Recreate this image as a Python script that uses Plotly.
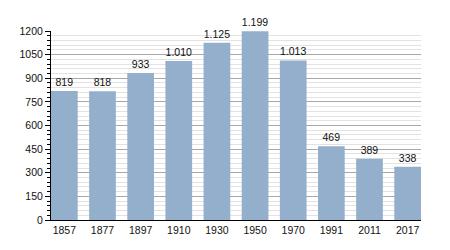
import plotly.graph_objects as go

years = ["1857", "1877", "1897", "1910", "1930", "1950", "1970", "1991", "2011", "2017"]
population = [819, 818, 933, 1010, 1125, 1199, 1013, 469, 389, 338]
y_ticks = [0, 150, 300, 450, 600, 750, 900, 1050, 1200]

fig = go.Figure(
    go.Bar(
        x=years,
        y=population,
        marker=dict(color="#94afcc", line=dict(width=0)),
        texttemplate="%{y:,d}",
        textposition="outside",
        textfont=dict(color="#111111", size=10.5),
        cliponaxis=False,
    )
)

fig.update_layout(
    width=450,
    height=250,
    margin=dict(l=51, r=29, t=31, b=30),
    paper_bgcolor="white",
    plot_bgcolor="white",
    separators=",.",
    bargap=0.3,
    showlegend=False,
    font=dict(family="Liberation Sans, Arial, sans-serif", size=10.5, color="#111111"),
)

fig.update_xaxes(
    type="category",
    range=[-0.35, 9.35],
    showline=True,
    linecolor="black",
    linewidth=1,
    ticks="",
    showgrid=False,
    fixedrange=True,
)

fig.update_yaxes(
    range=[0, 1200],
    tickvals=y_ticks,
    showline=True,
    linecolor="black",
    linewidth=1,
    ticks="outside",
    ticklen=5,
    tickcolor="black",
    showgrid=True,
    gridcolor="#a8a8a8",
    gridwidth=1,
    zeroline=False,
    minor=dict(
        dtick=30,
        showgrid=True,
        gridcolor="#e2e2e2",
        ticks="outside",
        ticklen=3,
        tickcolor="black",
    ),
    fixedrange=True,
)

fig.write_html("out.html")
